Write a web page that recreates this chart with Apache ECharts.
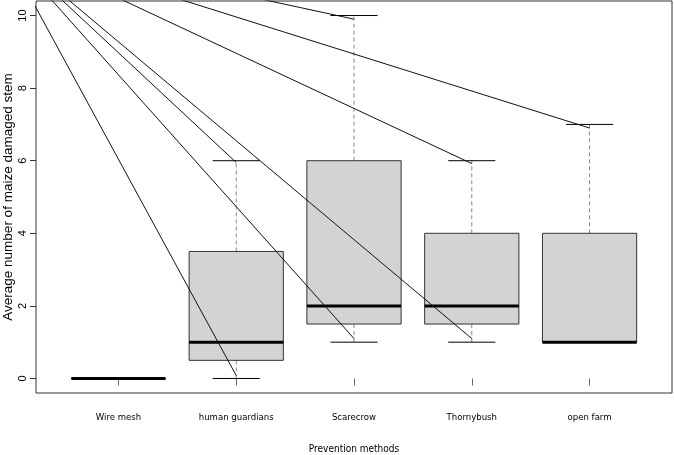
<!DOCTYPE html>
<html>
<head>
<meta charset="utf-8">
<script src="https://cdn.jsdelivr.net/npm/echarts@6/dist/echarts.min.js"></script>
<style>
html,body{margin:0;padding:0;background:#fff;}
#chart{width:674px;height:455px;}
</style>
</head>
<body>
<div id="chart"></div>
<script>
// ---- data ----
const categories = ['Wire mesh', 'human guardians', 'Scarecrow', 'Thornybush', 'open farm'];
const mins    = [0, 0,   1,   1,   1];
const q1s     = [0, 0.5, 1.5, 1.5, 1];
const medians = [0, 1,   2,   2,   1];
const q3s     = [0, 3.5, 6,   4,   4];
const maxs    = [0, 6,   10,  6,   7];
const yTicks  = [0, 2, 4, 6, 8, 10];
// stray annotation lines: common origin and end points
const lineStart = [0, 12];
const lineEndX  = [2, 3, 2, 4, 4, 5, 3];
const lineEndY  = [0.08, 1.1, 5.95, 1.1, 5.92, 6.9, 9.9];

const xPos = categories.map((c, i) => i + 1);
const boxData = categories.map((c, i) => [xPos[i], mins[i], q1s[i], medians[i], q3s[i], maxs[i]]);

function renderBox(params, api) {
  const x = api.value(0);
  const pMin = api.coord([x, api.value(1)]);
  const pQ1 = api.coord([x, api.value(2)]);
  const pMed = api.coord([x, api.value(3)]);
  const pQ3 = api.coord([x, api.value(4)]);
  const pMax = api.coord([x, api.value(5)]);
  const halfBox = api.size([0.4, 0])[0];
  const halfCap = api.size([0.2, 0])[0];
  const cx = pMed[0];
  const whisker = { stroke: '#888', lineWidth: 1, lineDash: [4, 3] };
  const solid = { stroke: '#000', lineWidth: 1 };
  return {
    type: 'group',
    children: [
      { type: 'line', shape: { x1: cx, y1: pMin[1], x2: cx, y2: pQ1[1] }, style: whisker },
      { type: 'line', shape: { x1: cx, y1: pQ3[1], x2: cx, y2: pMax[1] }, style: whisker },
      { type: 'line', shape: { x1: cx - halfCap, y1: pMin[1], x2: cx + halfCap, y2: pMin[1] }, style: solid },
      { type: 'line', shape: { x1: cx - halfCap, y1: pMax[1], x2: cx + halfCap, y2: pMax[1] }, style: solid },
      { type: 'rect', shape: { x: cx - halfBox, y: pQ3[1], width: 2 * halfBox, height: pQ1[1] - pQ3[1] },
        style: { fill: '#d3d3d3', stroke: '#333', lineWidth: 1 } },
      { type: 'line', shape: { x1: cx - halfBox, y1: pMed[1], x2: cx + halfBox, y2: pMed[1] },
        style: { stroke: '#000', lineWidth: 3 } }
    ]
  };
}

const lineSeries = lineEndX.map((ex, i) => ({
  type: 'line',
  data: [lineStart, [ex, lineEndY[i]]],
  symbol: 'none',
  clip: true,
  silent: true,
  z: 5,
  lineStyle: { color: '#111', width: 1 }
}));

const narrow = '"Liberation Sans Narrow", "DejaVu Sans Condensed", "Liberation Sans", sans-serif';
const regular = '"Liberation Sans", Arial, sans-serif';

const chart = echarts.init(document.getElementById('chart'), null, { renderer: 'canvas' });
chart.setOption({
  animation: false,
  backgroundColor: '#fff',
  grid: { left: 36, right: 2, top: 1, bottom: 62, containLabel: false, outerBoundsMode: 'none',
    show: true, borderColor: '#333', borderWidth: 1, backgroundColor: 'transparent' },
  xAxis: {
    type: 'value', min: 0.3, max: 5.7,
    name: 'Prevention methods', nameLocation: 'middle', nameGap: 51, nameMoveOverlap: false,
    nameTextStyle: { fontFamily: narrow, fontSize: 10, color: '#000' },
    axisLine: { show: false },
    splitLine: { show: false },
    axisTick: { show: true, length: 7, lineStyle: { color: '#666' }, customValues: xPos },
    axisLabel: { customValues: xPos, margin: 20, fontFamily: narrow, fontSize: 9.5, color: '#000',
      formatter: v => categories[Math.round(v) - 1] || '' }
  },
  yAxis: {
    type: 'value', min: -0.4, max: 10.4,
    name: 'Average number of maize damaged stem', nameLocation: 'middle', nameGap: 21, nameMoveOverlap: false,
    nameTextStyle: { fontFamily: regular, fontSize: 13.5, color: '#000' },
    axisLine: { show: false },
    splitLine: { show: false },
    axisTick: { show: true, length: 6, lineStyle: { color: '#333' }, customValues: yTicks },
    axisLabel: { customValues: yTicks, rotate: 90, margin: 8, fontFamily: regular, fontSize: 11, color: '#000' }
  },
  series: [
    { type: 'custom', renderItem: renderBox, data: boxData, clip: true, z: 2, silent: true }
  ].concat(lineSeries)
});
</script>
</body>
</html>
